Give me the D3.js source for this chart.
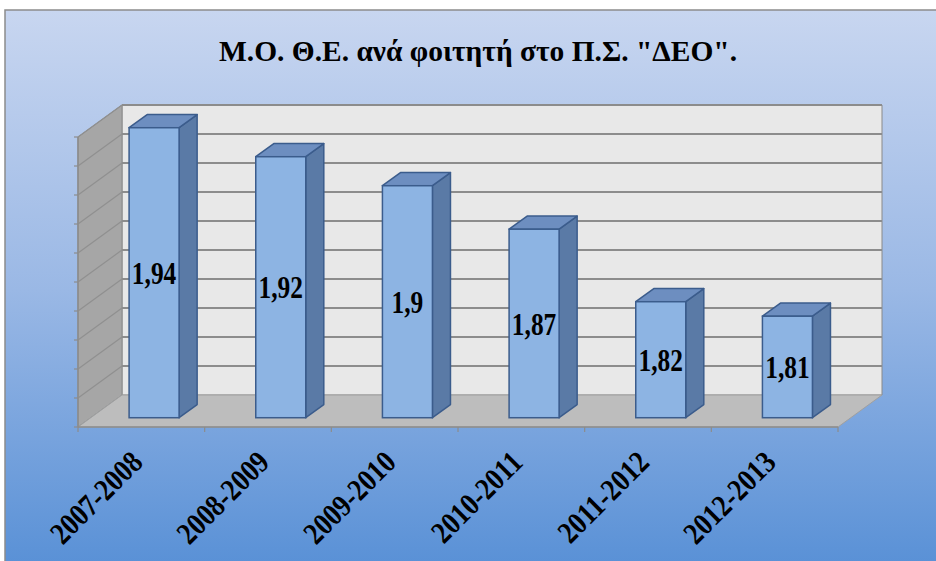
<!DOCTYPE html>
<html><head><meta charset="utf-8">
<script src="https://cdn.jsdelivr.net/npm/d3@7"></script>
<style>html,body{margin:0;padding:0;background:#fff;}svg{display:block;}</style>
</head><body>
<svg id="chart" width="936" height="561"></svg>
<script>
const titleText = 'Μ.Ο. Θ.Ε. ανά φοιτητή στο Π.Σ. "ΔΕΟ".';
const categories = ["2007-2008","2008-2009","2009-2010","2010-2011","2011-2012","2012-2013"];
const values = [1.94, 1.92, 1.9, 1.87, 1.82, 1.81];
const valueLabels = ["1,94","1,92","1,9","1,87","1,82","1,81"];
const yDomain = [1.74, 1.94];
const yTicks = d3.range(0, 11).map(i => +(1.74 + i * 0.02).toFixed(2));

const FONT = "'Liberation Serif','Times New Roman',Times,serif";
const svg = d3.select("#chart");
const defs = svg.append("defs");
const grad = defs.append("linearGradient").attr("id","bg").attr("x1",0).attr("y1",0).attr("x2",0).attr("y2",1);
grad.append("stop").attr("offset","0%").attr("stop-color","#c8d6f0");
grad.append("stop").attr("offset","50%").attr("stop-color","#9ab8e5");
grad.append("stop").attr("offset","100%").attr("stop-color","#5890d6");

svg.append("rect").attr("x",5).attr("y",10).attr("width",940).attr("height",560)
  .attr("fill","url(#bg)").attr("stroke","#8c8c8c").attr("stroke-width",1.5);

// front-plane scales
const x = d3.scaleBand().domain(categories).range([78, 838]).paddingInner(0).paddingOuter(0);
const y = d3.scaleLinear().domain(yDomain).range([427, 137]);
const DX = 44, DY = -32; // full depth offset
const f0 = 0.29, f1 = 0.70; // bar depth fractions
const barW = 50;

const pts = a => a.map(p => p.join(",")).join(" ");
const y0 = y(yDomain[0]), y1 = y(yDomain[1]);
const xL = x.range()[0], xR = x.range()[1];

// back wall
svg.append("polygon").attr("points", pts([[xL+DX,y1+DY],[xR+DX,y1+DY],[xR+DX,y0+DY],[xL+DX,y0+DY]]))
  .attr("fill","#e8e8e8").attr("stroke","#8a8a8a").attr("stroke-width",1);
// side wall
svg.append("polygon").attr("points", pts([[xL,y1],[xL+DX,y1+DY],[xL+DX,y0+DY],[xL,y0]]))
  .attr("fill","#a6a6a6").attr("stroke","#8a8a8a").attr("stroke-width",1);
// floor
svg.append("polygon").attr("points", pts([[xL,y0],[xL+DX,y0+DY],[xR+DX,y0+DY],[xR,y0]]))
  .attr("fill","#bdbdbd").attr("stroke","#a0a0a0").attr("stroke-width",1);

// gridlines
const grid = svg.append("g");
yTicks.slice(1).forEach(t => {
  grid.append("line").attr("x1",xL+DX).attr("x2",xR+DX).attr("y1",y(t)+DY).attr("y2",y(t)+DY)
    .attr("stroke","#8c8c8c").attr("stroke-width",2);
  grid.append("line").attr("x1",xL).attr("x2",xL+DX).attr("y1",y(t)).attr("y2",y(t)+DY)
    .attr("stroke","#909090").attr("stroke-width",1.2);
});

// axis lines + ticks
svg.append("line").attr("x1",xL).attr("x2",xL).attr("y1",y1).attr("y2",y0).attr("stroke","#8c8c8c").attr("stroke-width",1.5);
yTicks.forEach(t => svg.append("line").attr("x1",xL-4).attr("x2",xL).attr("y1",y(t)).attr("y2",y(t)).attr("stroke","#8c8c8c").attr("stroke-width",1.2));
svg.append("line").attr("x1",xL).attr("x2",xR).attr("y1",y0).attr("y2",y0).attr("stroke","#8c8c8c").attr("stroke-width",1.5);
const bounds = categories.map(c => x(c)).concat([xR]);
bounds.forEach(b => svg.append("line").attr("x1",b).attr("x2",b).attr("y1",y0).attr("y2",y0+5).attr("stroke","#8c8c8c").attr("stroke-width",1.2));

// bars
const bars = svg.append("g");
categories.forEach((c, i) => {
  const v = values[i];
  const cx = x(c) + x.bandwidth()/2;
  const fx = cx - barW/2 + DX*f0, fy = DY*f0;
  const bx = DX*(f1-f0), by = DY*(f1-f0);
  const top = y(v) + fy, bot = y0 + fy;
  const L = fx, R = fx + barW;
  bars.append("polygon").attr("points", pts([[R,top],[R+bx,top+by],[R+bx,bot+by],[R,bot]]))
    .attr("fill","#5a7aa6").attr("stroke","#3b5c8c").attr("stroke-width",1.5).attr("stroke-linejoin","round");
  bars.append("polygon").attr("points", pts([[L,top],[L+bx,top+by],[R+bx,top+by],[R,top]]))
    .attr("fill","#6d8ec0").attr("stroke","#3b5c8c").attr("stroke-width",1.5).attr("stroke-linejoin","round");
  bars.append("rect").attr("x",L).attr("y",top).attr("width",barW).attr("height",bot-top)
    .attr("fill","#8db4e3").attr("stroke","#3b5c8c").attr("stroke-width",1.5);
  bars.append("text").attr("transform",`translate(${L+barW/2},${(top+bot)/2}) scale(0.82,1)`).attr("dy","0.36em")
    .attr("text-anchor","middle").attr("font-family",FONT)
    .attr("font-weight","bold").attr("font-size",31).attr("fill","#000").text(valueLabels[i]);
});

// category labels
categories.forEach(c => {
  const cx = x(c) + x.bandwidth()/2 + 3;
  svg.append("text").attr("transform",`translate(${cx},464) rotate(-45) scale(0.86,1)`)
    .attr("text-anchor","end").attr("font-family",FONT)
    .attr("font-weight","bold").attr("font-size",31).attr("fill","#000").text(c);
});

// title
svg.append("text").attr("x",478).attr("y",61).attr("text-anchor","middle")
  .attr("font-family",FONT).attr("font-weight","bold")
  .attr("font-size",30).attr("textLength",518).attr("lengthAdjust","spacingAndGlyphs").text(titleText);
</script>
</body></html>
